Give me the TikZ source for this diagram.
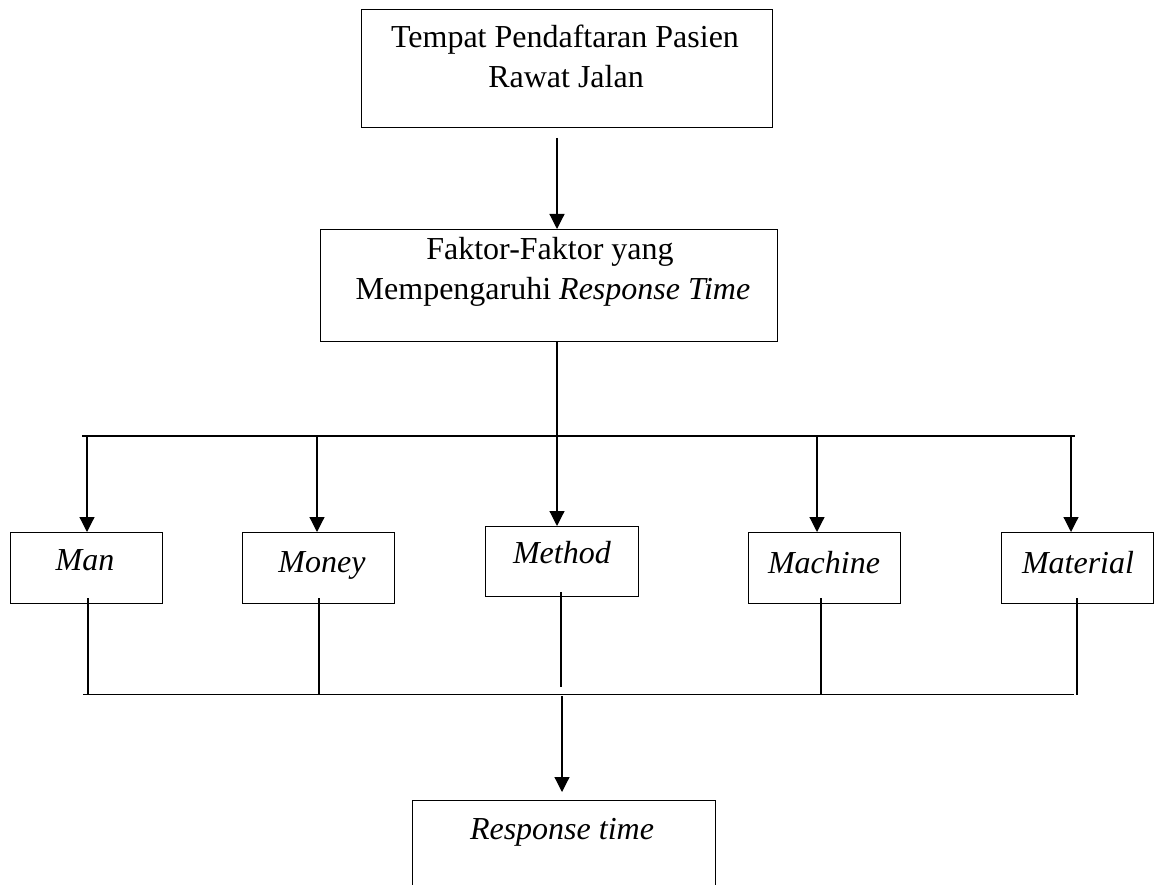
\documentclass[tikz,border=0pt]{standalone}
\usepackage{fontspec}
\setmainfont{Liberation Serif}
\usetikzlibrary{arrows.meta,calc}
\begin{document}
\begin{tikzpicture}[x=1pt,y=-1pt,line width=1.2pt,
  box/.style={draw,rectangle,inner sep=0pt,anchor=north west},
  txt/.style={anchor=base,inner sep=0pt,font=\fontsize{32}{40}\selectfont},
  arr/.style={-{Triangle[length=15pt,width=15pt]}}]
\useasboundingbox (0,0) rectangle (1160,885);
\clip (0,0) rectangle (1160,885);
% boxes
\node[box,minimum width=411pt,minimum height=118pt] (b1) at (361,9) {};
\node[box,minimum width=457pt,minimum height=112pt] (b2) at (320,229) {};
\node[box,minimum width=152pt,minimum height=71pt] (man) at (10,532) {};
\node[box,minimum width=152pt,minimum height=71pt] (money) at (242,532) {};
\node[box,minimum width=153pt,minimum height=70pt] (method) at (485,526) {};
\node[box,minimum width=152pt,minimum height=71pt] (machine) at (748,532) {};
\node[box,minimum width=152pt,minimum height=71pt] (material) at (1001,532) {};
\node[box,minimum width=303pt,minimum height=150pt] (b5) at (412,800) {};
% texts
\node[txt] (t1a) at (565,48) {Tempat Pendaftaran Pasien};
\node[txt] (t1b) at (566,88) {Rawat Jalan};
\node[txt] (t2a) at (550,260) {Faktor-Faktor yang};
\node[txt] (t2b) at (553,300) {Mempengaruhi \textit{Response Time}};
\node[txt] (tman) at (85,570) {\textit{Man}};
\node[txt] (tmoney) at (322,572) {\textit{Money}};
\node[txt] (tmethod) at (562,563) {\textit{Method}};
\node[txt] (tmachine) at (824,573) {\textit{Machine}};
\node[txt] (tmaterial) at (1078,573) {\textit{Material}};
\node[txt] (tresp) at (562,839) {\textit{Response time}};
% connectors
\coordinate (s1) at (557,138);
\draw[arr] (s1) -- (s1 |- b2.north);
\coordinate (d0) at (557,341);
\draw[arr] (d0) -- (d0 |- method.north);
\coordinate (busL) at (82,436);
\coordinate (busR) at (1075,436);
\draw (busL) -- (busR);
\foreach \x/\n in {87/man,317/money,817/machine,1071/material}{
  \draw[arr] (\x,436) -- (\x,0 |- \n.north);
}
\coordinate (busL2) at (83,694.5);
\coordinate (busR2) at (1074,694.5);
\draw (busL2) -- (busR2);
\foreach \x/\n in {88/man,319/money,821/machine,1077/material}{
  \draw ($(\x,0 |- \n.south)+(0,-6)$) -- (\x,694.5);
}
\draw ($(561,0 |- method.south)+(0,-5)$) -- (561,687);
\coordinate (d5) at (562,696);
\draw[arr] (d5) -- ($(d5 |- b5.north)+(0,-8)$);
\end{tikzpicture}
\end{document}
